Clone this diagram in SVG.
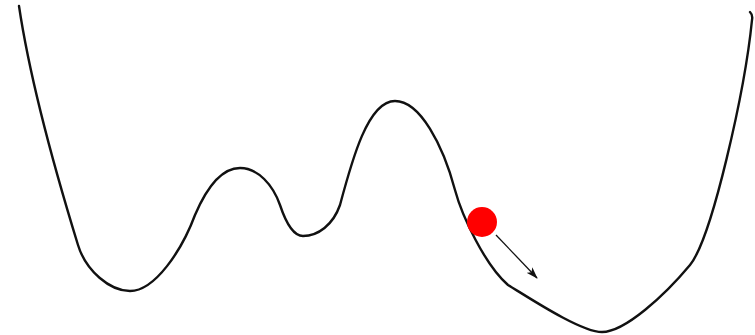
<svg xmlns="http://www.w3.org/2000/svg" width="755" height="335" viewBox="0 0 755 335">
  <style>
    .curve { fill: none; stroke: #111; stroke-width: 2.4; stroke-linecap: round; stroke-linejoin: round; }
    .arrow { fill: none; stroke: #111; stroke-width: 1.3; }
    .ball { fill: #ff0000; }
  </style>
  <defs>
    <marker id="head" viewBox="0 0 12 8" refX="11" refY="4" markerWidth="12" markerHeight="8" markerUnits="userSpaceOnUse" orient="auto">
      <path d="M0,0 L12,4 L0,8 L3,4 Z" fill="#111"/>
    </marker>
  </defs>
  <rect width="755" height="335" fill="#fff"/>
  <g id="landscape">
    <path class="curve" d="M19,6 C30,80 58,180 78,245 C86,271 110,291 130,291 C155,291 182,250 195,215 C207,187 222,168 240,168 C258,168 273,185 280,205 C285,220 292,236 303,236 C318,236 333,225 340,205 C352,160 368,101 395,101 C420,101 443,145 455,190 C462,216 485,265 508,285 C525,295 580,332 602,332 C625,332 665,295 690,265 C712,238 745,90 752,20 Q753,15 750,12"/>
  </g>
  <g id="ball">
    <circle class="ball" cx="482" cy="222" r="15"/>
  </g>
  <g id="connectors">
    <line class="arrow" x1="496" y1="235" x2="537" y2="278" marker-end="url(#head)"/>
  </g>
</svg>
